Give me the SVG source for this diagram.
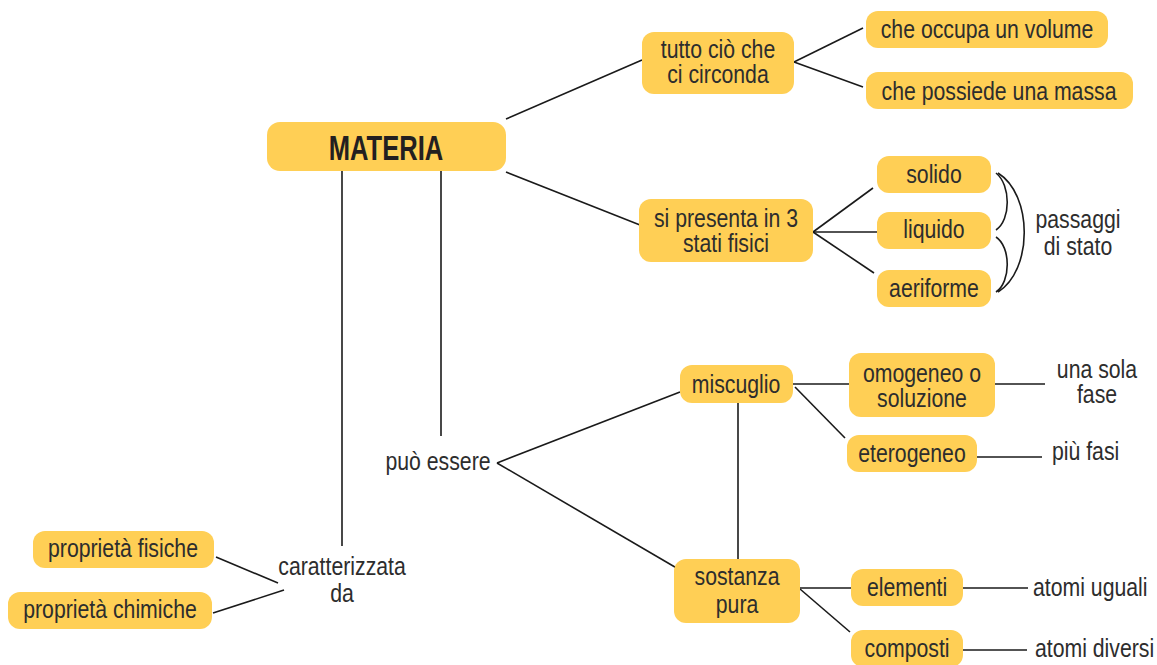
<svg xmlns="http://www.w3.org/2000/svg" width="1157" height="665" viewBox="0 0 1157 665">
  <style>
    .box { fill: #FFCF55; }
    /* condensed look: horizontal squeeze about the origin, so x values are pre-divided by 0.85 */
    .t { font-family: "Liberation Sans", Arial, sans-serif; font-size: 25px; fill: #2D2D2D; text-anchor: middle; transform: scale(0.85, 1); }
    .ts { text-anchor: start; }
    .title { font-family: "Liberation Sans", Arial, sans-serif; font-weight: bold; font-size: 35px; fill: #231F20; text-anchor: middle; transform: scale(0.73, 1); }
    .ln { stroke: #1A1A1A; stroke-width: 1.6; fill: none; }
  </style>
  <rect width="1157" height="665" fill="#FFFFFF"/>

  <!-- connectors -->
  <g id="connectors" class="ln">
    <line x1="506" y1="119" x2="642" y2="60"/>
    <line x1="506" y1="172" x2="640" y2="225"/>
    <line x1="342" y1="171" x2="342" y2="546"/>
    <line x1="441" y1="171" x2="441" y2="436"/>
    <line x1="794" y1="62" x2="863" y2="28"/>
    <line x1="794" y1="62" x2="863" y2="87"/>
    <line x1="813" y1="232" x2="873" y2="188"/>
    <line x1="813" y1="232" x2="877" y2="232"/>
    <line x1="813" y1="232" x2="874" y2="273"/>
    <path d="M996,173 C1011,185 1011,220 996,230"/>
    <path d="M996,237 C1011,247 1011,282 996,292"/>
    <path d="M998,173 C1033,195 1033,270 998,292"/>
    <line x1="497" y1="463" x2="680" y2="392"/>
    <line x1="497" y1="463" x2="680" y2="570"/>
    <line x1="738" y1="403" x2="738" y2="560"/>
    <line x1="793" y1="384" x2="849" y2="384"/>
    <line x1="795" y1="387" x2="845" y2="438"/>
    <line x1="995" y1="384" x2="1045" y2="384"/>
    <line x1="977" y1="457" x2="1042" y2="457"/>
    <line x1="800" y1="588" x2="851" y2="588"/>
    <line x1="800" y1="589" x2="850" y2="632"/>
    <line x1="963" y1="588" x2="1028" y2="588"/>
    <line x1="963" y1="650" x2="1027" y2="650"/>
    <line x1="216" y1="557" x2="278" y2="583"/>
    <line x1="213" y1="613" x2="284" y2="590"/>
  </g>

  <g id="materia">
    <rect class="box" x="267" y="122" width="239" height="49" rx="13"/>
    <text class="title" x="528.8" y="160">MATERIA</text>
  </g>
  <g id="tutto-cio">
    <rect class="box" x="642" y="32" width="152" height="62" rx="12"/>
    <text class="t" x="844.7" y="58">tutto ciò che</text>
    <text class="t" x="844.7" y="83">ci circonda</text>
  </g>
  <g id="volume">
    <rect class="box" x="866" y="11" width="242" height="37" rx="12"/>
    <text class="t" x="1161.2" y="38">che occupa un volume</text>
  </g>
  <g id="massa">
    <rect class="box" x="866" y="72" width="267" height="37" rx="12"/>
    <text class="t" x="1175.3" y="100">che possiede una massa</text>
  </g>
  <g id="stati-fisici">
    <rect class="box" x="639" y="199" width="174" height="63" rx="12"/>
    <text class="t" x="854.1" y="227">si presenta in 3</text>
    <text class="t" x="854.1" y="252">stati fisici</text>
  </g>
  <g id="solido">
    <rect class="box" x="877" y="156" width="114" height="37" rx="12"/>
    <text class="t" x="1098.8" y="183">solido</text>
  </g>
  <g id="liquido">
    <rect class="box" x="877" y="212" width="114" height="37" rx="12"/>
    <text class="t" x="1098.8" y="238">liquido</text>
  </g>
  <g id="aeriforme">
    <rect class="box" x="877" y="270" width="114" height="37" rx="12"/>
    <text class="t" x="1098.8" y="297">aeriforme</text>
  </g>
  <g id="passaggi">
    <text class="t" x="1268.2" y="228">passaggi</text>
    <text class="t" x="1268.2" y="255">di stato</text>
  </g>
  <g id="puo-essere">
    <text class="t" x="515.3" y="470">può essere</text>
  </g>
  <g id="miscuglio">
    <rect class="box" x="680" y="365" width="113" height="38" rx="12"/>
    <text class="t" x="865.9" y="393">miscuglio</text>
  </g>
  <g id="omogeneo">
    <rect class="box" x="849" y="353" width="146" height="64" rx="12"/>
    <text class="t" x="1084.7" y="382">omogeneo o</text>
    <text class="t" x="1084.7" y="407">soluzione</text>
  </g>
  <g id="una-sola-fase">
    <text class="t" x="1290.6" y="378">una sola</text>
    <text class="t" x="1290.6" y="403">fase</text>
  </g>
  <g id="eterogeneo">
    <rect class="box" x="847" y="435" width="130" height="37" rx="12"/>
    <text class="t" x="1072.9" y="462">eterogeneo</text>
  </g>
  <g id="piu-fasi">
    <text class="t ts" x="1237.6" y="460">più fasi</text>
  </g>
  <g id="sostanza-pura">
    <rect class="box" x="674" y="559" width="126" height="64" rx="12"/>
    <text class="t" x="867.1" y="585">sostanza</text>
    <text class="t" x="867.1" y="613">pura</text>
  </g>
  <g id="elementi">
    <rect class="box" x="851" y="569" width="112" height="37" rx="12"/>
    <text class="t" x="1067.1" y="596">elementi</text>
  </g>
  <g id="atomi-uguali">
    <text class="t ts" x="1215.3" y="596">atomi uguali</text>
  </g>
  <g id="composti">
    <rect class="box" x="851" y="630" width="112" height="37" rx="12"/>
    <text class="t" x="1067.1" y="657">composti</text>
  </g>
  <g id="atomi-diversi">
    <text class="t ts" x="1217.6" y="657">atomi diversi</text>
  </g>
  <g id="caratterizzata">
    <text class="t" x="402.4" y="575">caratterizzata</text>
    <text class="t" x="402.4" y="602">da</text>
  </g>
  <g id="prop-fisiche">
    <rect class="box" x="33" y="531" width="181" height="37" rx="12"/>
    <text class="t" x="144.7" y="557">proprietà fisiche</text>
  </g>
  <g id="prop-chimiche">
    <rect class="box" x="8" y="592" width="204" height="37" rx="12"/>
    <text class="t" x="129.4" y="618">proprietà chimiche</text>
  </g>
</svg>
